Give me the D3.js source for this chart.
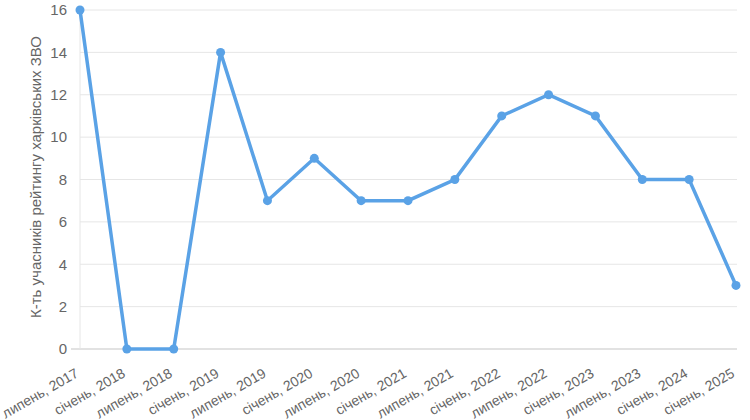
<!DOCTYPE html>
<html><head><meta charset="utf-8">
<script src="https://cdn.jsdelivr.net/npm/d3@7"></script>
<style>body{margin:0;background:#fff}svg{display:block}text{font-family:"Liberation Sans",Arial,sans-serif}</style>
</head><body><svg id="c" width="750" height="420"></svg>
<script>
const categories = ["липень, 2017","січень, 2018","липень, 2018","січень, 2019","липень, 2019","січень, 2020","липень, 2020","січень, 2021","липень, 2021","січень, 2022","липень, 2022","січень, 2023","липень, 2023","січень, 2024","січень, 2025"];
const values = [16,0,0,14,7,9,7,7,8,11,12,11,8,8,3];
const yTicks = [0,2,4,6,8,10,12,14,16];
const yTitle = "К-ть учасників рейтингу харківських ЗВО";

const svg = d3.select("#c");
const mLeft = 80, mRight = 736, mTop = 10, mBottom = 349;
const x = d3.scalePoint().domain(categories).range([mLeft, mRight]);
const y = d3.scaleLinear().domain([0,16]).range([mBottom, mTop]);

// gridlines
svg.append("g").selectAll("line").data(yTicks).join("line")
  .attr("x1", d => d === 0 ? mLeft - 9 : mLeft).attr("x2", mRight + 1)
  .attr("y1", d => y(d)).attr("y2", d => y(d))
  .attr("stroke", d => d === 0 ? "#d9d9d9" : "#e6e6e6")
  .attr("stroke-width", d => d === 0 ? 1.5 : 1);
// vertical axis line
svg.append("line").attr("x1", mLeft).attr("x2", mLeft).attr("y1", mTop).attr("y2", mBottom)
  .attr("stroke", "#e6e6e6");

// y labels
const yAxis = d3.axisLeft(y).tickValues(yTicks).tickSize(0).tickPadding(13);
const yg = svg.append("g").attr("transform", `translate(${mLeft},0)`).call(yAxis);
yg.select(".domain").remove();
yg.selectAll("text").attr("fill", "#666").style("font-size", "15px").style("font-family", '"Liberation Sans",Arial,sans-serif');

// x labels
const xAxis = d3.axisBottom(x).tickSize(0).tickPadding(0);
const xg = svg.append("g").attr("transform", `translate(0,${mBottom})`).call(xAxis);
xg.select(".domain").remove();
xg.selectAll("text").attr("fill", "#666").style("font-size", "14px")
  .style("font-family", '"Liberation Sans",Arial,sans-serif')
  .attr("text-anchor", "end").attr("dy", null).attr("y", 0)
  .attr("transform", "translate(-1,27) rotate(-30)");

// y title
svg.append("text").attr("transform", "translate(41,177) rotate(-90)")
  .attr("text-anchor", "middle").attr("fill", "#666").style("font-size", "15px").text(yTitle);

// line
const line = d3.line().x((d,i) => x(categories[i])).y(d => y(d));
svg.append("path").datum(values).attr("d", line).attr("fill", "none")
  .attr("stroke", "#5aa2e6").attr("stroke-width", 3.5).attr("stroke-linejoin", "miter");
svg.append("g").selectAll("circle").data(values).join("circle")
  .attr("cx", (d,i) => x(categories[i])).attr("cy", d => y(d)).attr("r", 4.5).attr("fill", "#5aa2e6");
</script></body></html>
